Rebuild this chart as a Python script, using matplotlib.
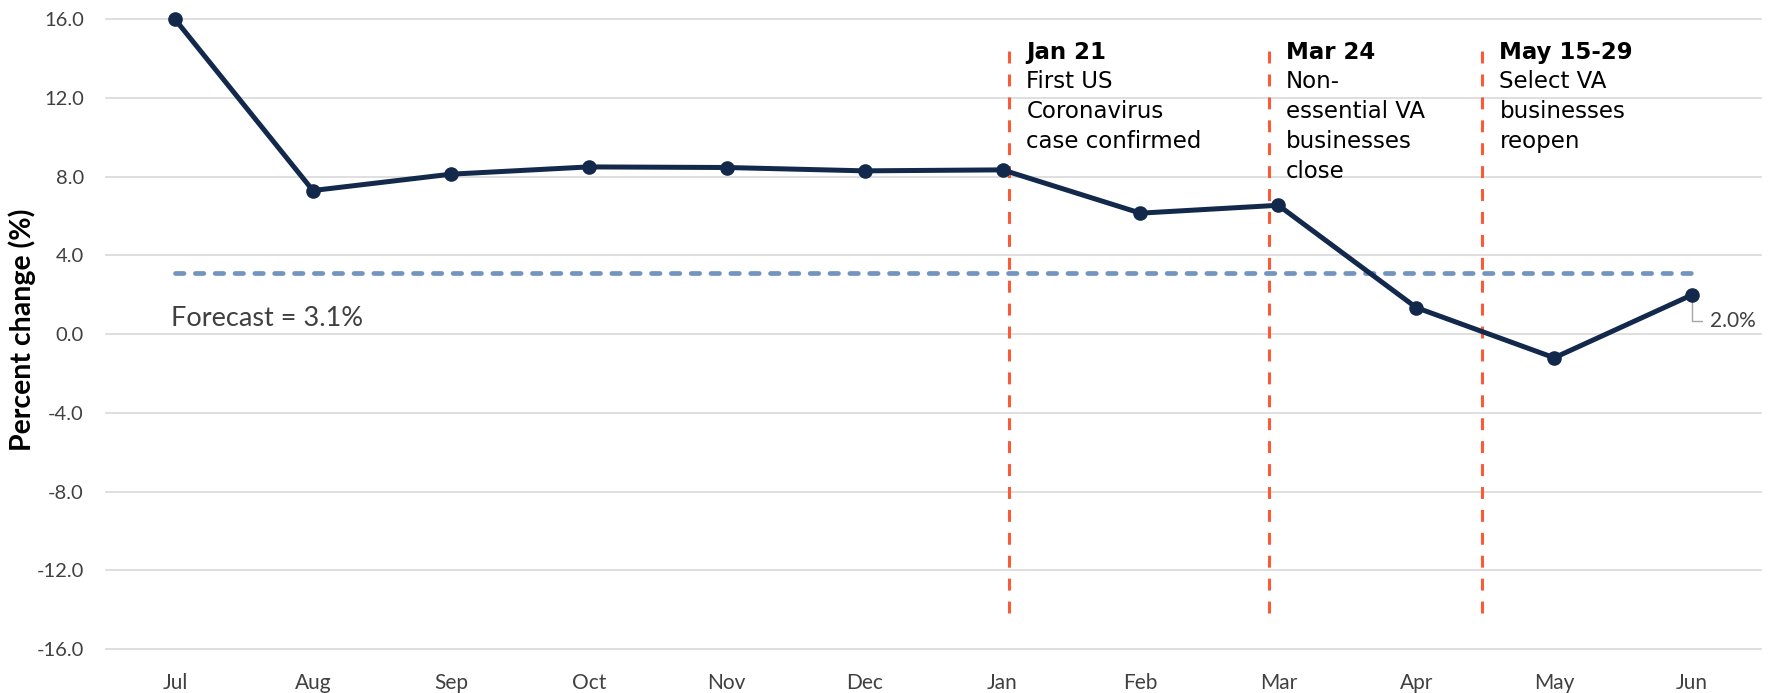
import matplotlib.pyplot as plt
import numpy as np

months = ['Jul', 'Aug', 'Sep', 'Oct', 'Nov', 'Dec', 'Jan', 'Feb', 'Mar', 'Apr', 'May', 'Jun']
pct_change = [16.0, 7.3, 8.13, 8.5, 8.47, 8.3, 8.35, 6.15, 6.55, 1.35, -1.2, 2.0]
forecast = 3.1
yticks = [-16, -12, -8, -4, 0, 4, 8, 12, 16]

# events sit between the month categories
event_pos = [6.05, 7.93, 9.48]
event_titles = ['Jan 21', 'Mar 24', 'May 15-29']
event_texts = ['First US\nCoronavirus\ncase confirmed',
               'Non-\nessential VA\nbusinesses\nclose',
               'Select VA\nbusinesses\nreopen']

navy = '#13294B'
orange = '#FA5A36'
fc_blue = '#7494C0'
gray = '#404040'

fig = plt.figure(figsize=(17.71, 6.93), dpi=100)
ax = fig.add_axes([0.0599, 0.0635, 0.9345, 0.9086])

x = np.arange(len(months))

ax.set_xlim(-0.5, len(months) - 0.5)
ax.set_ylim(-16, 16)
ax.set_yticks(yticks)
ax.set_yticklabels(['%.1f' % v for v in yticks])
ax.set_xticks(x)
ax.set_xticklabels(months)
for s in ax.spines.values():
    s.set_visible(False)
ax.tick_params(length=0, labelsize=14.5, labelcolor=gray)
ax.tick_params(axis='x', labelsize=15, pad=17)
ax.tick_params(axis='y', pad=16)
for lab in ax.get_xticklabels() + ax.get_yticklabels():
    lab.set_family('Lato')

ax.yaxis.grid(True, color='#D9D9D9', lw=1.2)
ax.set_axisbelow(True)
for gl in ax.get_ygridlines():
    gl.set_clip_on(False)

ax.set_ylabel('Percent change (%)', fontsize=20.5, fontweight='bold', family='Lato',
              color='black')
ax.yaxis.set_label_coords(-0.0423, 0.507)

# forecast line
ax.hlines(forecast, x[0], x[-1], colors=fc_blue, lw=3.4, linestyles=(0, (1.8, 2.4)),
          capstyle='round', zorder=2)
ax.text(-0.03, 0.42, 'Forecast = %.1f%%' % forecast, fontsize=19.5, family='Lato',
        color=gray, va='baseline', ha='left')

# event markers
for xp, t, body in zip(event_pos, event_titles, event_texts):
    ax.vlines(xp, -14.15, 14.7, colors=orange, lw=2.2, linestyles=(0, (3.9, 3.6)), zorder=3)
    ax.annotate(t, (xp, 13.97), xytext=(17, 0), textcoords='offset pixels',
                fontsize=16.5, fontweight='bold', family='DejaVu Sans',
                ha='left', va='baseline', color='black')
    ax.annotate(body, (xp, 13.45), xytext=(17, 0), textcoords='offset pixels',
                fontsize=16.5, family='DejaVu Sans', linespacing=1.39,
                ha='left', va='top', color='black')

ax.plot(x, pct_change, color=navy, lw=3.6, marker='o', ms=9.5, zorder=4, clip_on=False)

ax.annotate('%.1f%%' % pct_change[-1], (x[-1], pct_change[-1]), xytext=(18, -26),
            textcoords='offset pixels', fontsize=15, family='Lato', color=gray,
            ha='left', va='center',
            arrowprops=dict(arrowstyle='-', color='#A6A6A6', lw=1,
                            connectionstyle='angle,angleA=0,angleB=90,rad=0',
                            relpos=(0, 0.5), shrinkA=4, shrinkB=3))

fig.savefig('out.png', dpi=100)
